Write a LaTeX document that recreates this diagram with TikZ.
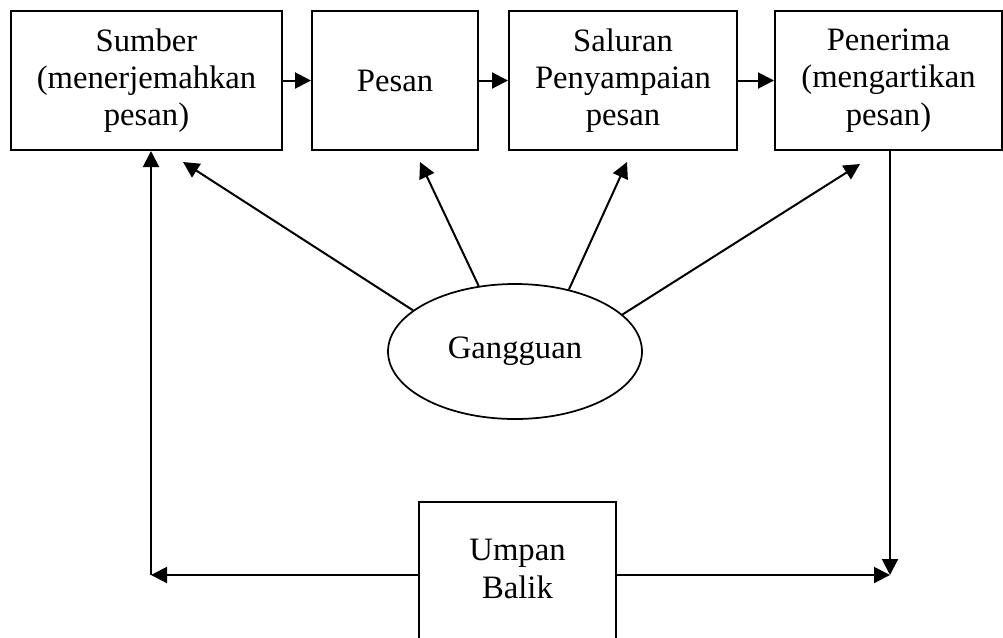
\documentclass[tikz,border=0pt]{standalone}
\usepackage{fontspec}
\setmainfont{Liberation Serif}
\usetikzlibrary{arrows.meta,shapes.geometric,calc}

\tikzset{
    kotak/.style={draw, line width=1.5pt, align=center, inner sep=0pt, minimum height=104.25pt},
    panah/.style={line width=1.5pt, -{Triangle[length=12pt,width=12pt]}},
}

\begin{document}
\begin{tikzpicture}[x=0.75pt, y=-0.75pt, font=\fontsize{24.5pt}{28pt}\selectfont]
    \useasboundingbox (0,0) rectangle (1003,637);
    \clip (0,0) rectangle (1003,637);
    % The four boxes along the top.
        \node[kotak, minimum width=203.25pt] (sumber) at (146.5,80.5) {Sumber\\(menerjemahkan\\pesan)};
        \node[kotak, minimum width=124.5pt] (pesan) at (395,80.5) {Pesan};
        \node[kotak, minimum width=171pt] (saluran) at (623,80.5) {Saluran\\Penyampaian\\pesan};
        \node[kotak, minimum width=170.25pt] (penerima) at (888.5,80.5) {Penerima\\(mengartikan\\pesan)};
    % Noise in the middle, feedback at the bottom.
        \node[draw, ellipse, line width=1.3pt, inner sep=0pt, minimum width=190.5pt, minimum height=101.25pt] (gangguan) at (515,351.5) {Gangguan};
        \node[kotak, minimum width=147.75pt, minimum height=109.5pt] (umpan) at (517.5,575) {};
        \node[align=center] (umpanteks) at (517.5,569) {Umpan\\Balik};
        \coordinate (kiri) at (151,575);
        \coordinate (kanan) at (890,575);
    \draw[panah] (sumber) -- (pesan);
    \draw[panah] (pesan) -- (saluran);
    \draw[panah] (saluran) -- (penerima);
    % Arrows from the noise up to the boxes.
        \draw[panah] (gangguan.158) -- ($(sumber.south)+(36.5,11)$);
        \draw[panah] (gangguan.119) -- ($(pesan.south)+(25,11)$);
        \draw[panah] (gangguan.49) -- ($(saluran.south)+(4,11)$);
        \draw[panah] (gangguan.19) -- ($(penerima.south)+(-28.5,13)$);
    % The feedback loop.
        \draw[panah] (kanan |- penerima.south) -- (kanan);
        \draw[panah] (umpan.east) -- (kanan);
        \draw[panah] (umpan.west) -- (kiri);
        \draw[panah] (kiri) -- (kiri |- sumber.south);
\end{tikzpicture}
\end{document}
